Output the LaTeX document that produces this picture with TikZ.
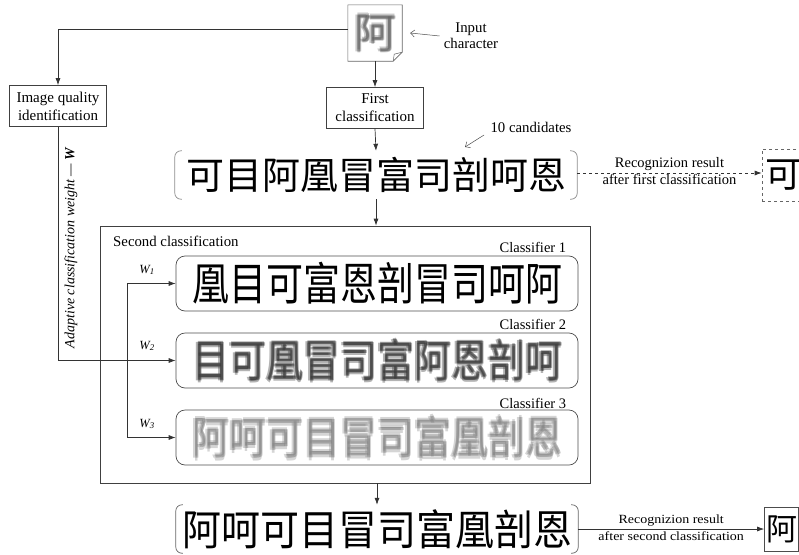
\documentclass[tikz,border=0pt]{standalone}
\usepackage{fontspec}
\usepackage{graphicx}
\setmainfont{Liberation Serif}
\newfontfamily\cjk{Noto Sans CJK SC}
\usetikzlibrary{arrows.meta,calc}
\newcommand\blurby[2]{\rlap{\kern-#1\relax#2}\rlap{\kern#1\relax#2}\rlap{\raisebox{#1}{#2}}\rlap{\raisebox{-#1}{#2}}#2}
\begin{document}
\begin{tikzpicture}[x=1pt,y=-1pt,
  lab/.style={font=\fontsize{14.8}{16}\selectfont, align=center, inner sep=0pt},
  box/.style={draw=black!75, line width=0.7pt, align=center, font=\fontsize{15}{18}\selectfont, minimum width=97, minimum height=41, inner sep=0pt},
  arr/.style={-{Latex[length=7pt,width=5pt]}, line width=0.7pt, draw=black!80},
  thinarr/.style={-{Straight Barb[length=4pt,width=7pt]}, line width=0.5pt, draw=black!70},
  cand/.style={minimum width=402, minimum height=48, inner sep=0pt, font=\cjk\fontsize{38}{40}\selectfont},
  cbox/.style={draw=black!70, line width=0.7pt, rounded corners=9pt, minimum width=402, minimum height=55, inner sep=0pt, font=\cjk\fontsize{37}{40}\selectfont},
  brk/.style={draw=black!45, line width=0.7pt, rounded corners=6pt},
  clab/.style={font=\fontsize{14.5}{16}\selectfont, inner sep=0pt, anchor=south east},
  wlab/.style={font=\fontsize{12.5}{14}\selectfont\itshape, inner sep=0pt}
]
\useasboundingbox (0,0) rectangle (799,554);

% input character
\node[minimum width=54, minimum height=56, inner sep=0pt, text=black!70, text opacity=0.3,
      font=\cjk\fontsize{42}{42}\selectfont] (inp) at (375,33) {\blurby{1.6pt}{阿}};
\draw[black!60, line width=0.6pt] (inp.north west) -- (inp.north east) -- ($(inp.south east)+(0,-9)$)
   -- ($(inp.south east)+(-9,0)$) -- (inp.south west) -- cycle;
\draw[black!60, line width=0.5pt] ($(inp.south east)+(-9,0)$) -- ($(inp.south east)+(-8,-7)$) -- ($(inp.south east)+(0,-9)$);
\node[lab] (inptxt) at (471,36) {Input\\character};
\draw[thinarr] ([xshift=-4pt]inptxt.west) -- ([xshift=8pt]inp.east);

\node[box] (iq) at (58,106) {Image quality\\identification};
\node[box] (fc) at (375,108) {First\\classification};

\draw[arr] ([yshift=4pt]inp.west) -| (iq.north);
\draw[arr] (inp.south) -- (fc.north);

% first candidates
\node[cand] (c1set) at (376,175) {可目阿凰冒富司剖呵恩};
\draw[brk] ([xshift=7pt]c1set.north west) -- (c1set.north west) -- (c1set.south west) -- ([xshift=7pt]c1set.south west);
\draw[brk] ([xshift=-7pt]c1set.north east) -- (c1set.north east) -- (c1set.south east) -- ([xshift=-7pt]c1set.south east);
\draw[arr] (fc.south) -- (c1set.north);

\node[lab] (tenc) at (531,127) {10 candidates};
\coordinate (tenp) at (465,147);
\draw[thinarr] (484,135) -- (tenp);

\node[draw=black!60, dashed, line width=0.6pt, minimum width=42, minimum height=52, inner sep=0pt,
      font=\cjk\fontsize{36}{38}\selectfont] (res1) at (783,175) {可};
\draw[arr, dashed] ([yshift=2pt]c1set.east) -- ([yshift=2pt]res1.west)
   node[midway, above, inner sep=2pt, font=\fontsize{14.5}{16}\selectfont] (r1a) {Recognizion result}
   node[midway, below, inner sep=1pt, font=\fontsize{14.5}{16}\selectfont] (r1b) {after first classification};

% second classification
\node[draw=black!75, line width=0.7pt, minimum width=490, minimum height=257, inner sep=0pt] (sc) at (345,354.5) {};
\draw[arr] (c1set.south) -- (c1set.south |- sc.north);
\node[lab, anchor=west] (sctxt) at (113,241) {Second classification};

\node[cbox] (k1) at (377,283.5) {\scalebox{1}[1.22]{凰目可富恩剖冒司呵阿}};
\node[cbox, text=black!85, text opacity=0.35] (k2) at (377,360.5) {\scalebox{1}[1.22]{\blurby{1.3pt}{目可凰冒司富阿恩剖呵}}};
\node[cbox, text=black!55, text opacity=0.3] (k3) at (377,437.5) {\scalebox{1}[1.22]{\blurby{1.8pt}{阿呵可目冒司富凰剖恩}}};
\node[clab] (k1l) at ([xshift=-12pt,yshift=3pt]k1.north east) {Classifier 1};
\node[clab] (k2l) at ([xshift=-12pt,yshift=3pt]k2.north east) {Classifier 2};
\node[clab] (k3l) at ([xshift=-12pt,yshift=1pt]k3.north east) {Classifier 3};

\coordinate (b1) at (127,283.5);
\coordinate (b3) at (127,437.5);
\draw[line width=0.7pt, black!80] (b1) -- (b3);
\draw[arr] (b1) -- (k1.west);
\draw[arr] (b3) -- (k3.west);
\draw[arr] (iq.south) |- (k2.west);

\node[wlab] (w1) at (147,270) {W\textsubscript{1}};
\node[wlab] (w2) at (147,346) {W\textsubscript{2}};
\node[wlab] (w3) at (147,424) {W\textsubscript{3}};
\node[lab, rotate=90, font=\fontsize{14}{15}\selectfont\itshape] (adw) at (71,248) {Adaptive classification weight — \textbf{W}};

% final candidates
\node[cand, font=\cjk\fontsize{39}{40}\selectfont] (c2set) at (377,529) {\scalebox{1}[1.08]{阿呵可目冒司富凰剖恩}};
\draw[brk, draw=black!60] ([xshift=7pt]c2set.north west) -- (c2set.north west) -- (c2set.south west) -- ([xshift=7pt]c2set.south west);
\draw[brk, draw=black!60] ([xshift=-7pt]c2set.north east) -- (c2set.north east) -- (c2set.south east) -- ([xshift=-7pt]c2set.south east);
\draw[arr] (c2set.north |- sc.south) -- (c2set.north);

\node[draw=black!70, line width=0.7pt, minimum width=34, minimum height=44, inner sep=0pt,
      font=\cjk\fontsize{31}{33}\selectfont] (res2) at (781.5,529) {阿};
\draw[arr] (c2set.east) -- (res2.west)
   node[midway, above, inner sep=2pt, font=\fontsize{12.5}{14}\selectfont] (r2a) {\scalebox{1.12}[1]{Recognizion result}}
   node[midway, below, inner sep=2pt, font=\fontsize{12.5}{14}\selectfont] (r2b) {\scalebox{1.12}[1]{after second classification}};
\end{tikzpicture}
\end{document}
